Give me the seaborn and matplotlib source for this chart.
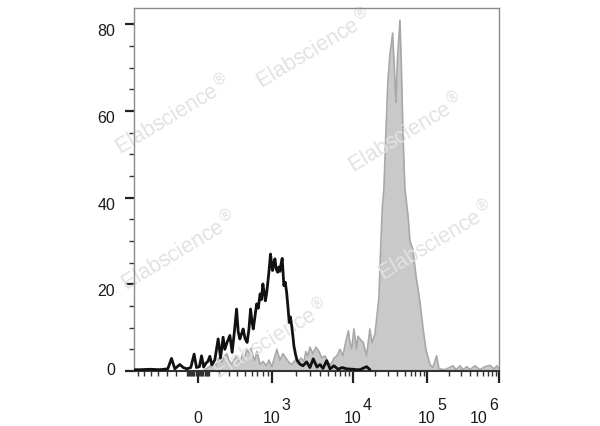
import numpy as np
import matplotlib
matplotlib.use("Agg")
import matplotlib.pyplot as plt
import matplotlib.transforms as mtransforms
from matplotlib.ticker import FixedLocator, NullFormatter
import seaborn as sns

sns.set_style("ticks")
plt.rcParams['font.family'] = ['Liberation Sans', 'DejaVu Sans']

# control sample (black line): fluorescence intensity / count
ctrl_x = [-770, -670, -515, -380, -288, -248, -214, -165, -132, -99, -63, -33, -12, 14, 33,
          52, 72, 90, 108, 127, 155, 187, 211, 237, 255, 277, 310, 336, 362, 389, 410, 431,
          452, 475, 502, 532, 558, 585, 606, 628, 656, 686, 716, 749, 775, 803, 831, 853,
          875, 891, 928, 968, 1000, 1021, 1062, 1096, 1140, 1186, 1231, 1268, 1306, 1357,
          1425, 1481, 1542, 1600, 1663, 1720, 1781, 1849, 1901, 1984, 2055, 2131, 2256,
          2458, 2730, 2995, 3290, 3653, 3970, 4325, 4800, 5265, 5895, 6595, 7375, 8417,
          10000, 11220, 12430, 15300, 17000]
ctrl_y = [0.3, 0.3, 0.4, 0.3, 0.5, 2.9, 0.5, 1.5, 0.8, 0.5, 0.8, 3.9, 0.8, 1.0, 3.5,
          0.9, 1.8, 2.2, 3.4, 1.4, 2.6, 7.4, 3.0, 7.8, 5.0, 6.5, 8.2, 4.3, 9.0, 14.3, 9.0, 7.4,
          8.5, 9.7, 7.5, 6.6, 9.5, 14.3, 11.5, 9.7, 12.5, 15.5, 14.5, 17.8, 16.5, 20.1, 18.0, 16.2,
          17.5, 18.9, 22.5, 27.0, 24.0, 23.2, 25.0, 25.9, 23.5, 22.8, 24.0, 23.0, 24.5, 26.0,
          19.7, 20.5, 18.2, 15.0, 11.2, 12.5, 10.5, 8.0, 5.8, 4.0, 2.8, 2.2, 1.6,
          1.2, 2.1, 0.8, 2.8, 0.9, 1.5, 0.6, 2.4, 0.5, 1.2, 0.4, 0.8, 0.5,
          0.4, 0.3, 0.3, 1.0, 0.3]

# stained sample (gray filled)
stain_x = [63, 108, 136, 165, 194, 224, 255, 277, 299, 333, 356, 393, 431, 471, 499, 527,
           558, 590, 622, 656, 692, 749, 807, 875, 931, 1000, 1096, 1161, 1268, 1385, 1511,
           1648, 1796, 1957, 2131, 2321, 2528, 2675, 2830, 2995, 3260, 3548, 3862, 4205,
           4575, 4978, 5415, 5895, 6407, 6970, 7584, 8019, 8806, 9220, 9676, 10316, 11220,
           11680, 12430, 13780, 14530, 15300, 15950, 16970, 18060, 18800, 19830, 20900,
           22450, 23900, 25000, 26200, 27900, 29700, 31600, 34400, 35800, 38100, 39900,
           43200, 45200, 47400, 50400, 55400, 58900, 64700, 71000, 75600, 80400, 88300,
           96900, 110000, 121000, 136000, 147000, 178000, 230000, 253000, 287000, 316000,
           359000, 395000, 464000, 544000, 637000, 748000, 852000, 938000, 1000000]
stain_y = [0.3, 1.0, 2.0, 1.2, 3.0, 2.0, 3.5, 4.0, 2.5, 1.5, 2.5, 3.5, 2.0, 4.0, 3.0, 5.0,
           4.2, 5.2, 3.5, 2.5, 4.5, 1.5, 2.2, 1.2, 2.5, 1.0, 3.5, 5.0, 2.5, 4.0, 3.0,
           2.0, 1.5, 2.5, 1.8, 3.0, 2.2, 4.5, 3.5, 5.5, 4.0, 5.5, 4.5, 3.0,
           3.5, 2.0, 1.5, 3.0, 3.5, 5.0, 3.5, 6.0, 9.3, 6.5, 5.1, 9.7, 5.1,
           8.0, 7.4, 6.6, 5.0, 3.5, 6.0, 9.7, 6.5, 7.4, 8.5, 12.0,
           17.0, 30.0, 38.0, 42.0, 55.0, 67.0, 73.0, 78.0, 72.0, 62.0, 72.0,
           81.0, 70.0, 55.0, 42.0, 36.0, 30.0, 28.0, 22.0, 19.0, 16.0, 10.0,
           5.0, 1.5, 0.8, 3.5, 0.5, 0.3, 1.2, 0.3, 1.2, 0.3,
           1.0, 0.3, 1.2, 0.3, 1.0, 1.3, 0.5, 1.2, 0.5]

y_ticks = [0, 20, 40, 60, 80]
x_ticks = [0, 1e3, 1e4, 1e5, 1e6]
x_base = ['0', '10', '10', '10', '10']
x_exp = ['', '3', '4', '5', '6']

# logicle-like display: arcsinh, then piecewise so each decade gets the cytometer's width
C = 400.0
anchor_vals = np.array([-1e5, 0, 1e3, 1e4, 1e5, 1e6, 1e7])
anchor_u = np.arcsinh(anchor_vals / C)
anchor_pos = np.array([-279.0, 0, 74, 155, 229, 301, 373])


def fwd(x):
    return np.interp(np.arcsinh(np.asarray(x, dtype=float) / C), anchor_u, anchor_pos)


def inv(p):
    return C * np.sinh(np.interp(np.asarray(p, dtype=float), anchor_pos, anchor_u))


fig = plt.figure(figsize=(6, 4.27), dpi=100)
ax = fig.add_axes([134 / 600, 1 - 372 / 427, 365 / 600, 363 / 427])
ax.set_xscale('function', functions=(fwd, inv))

ax.fill_between(stain_x, stain_y, 0, color='#c9c9c9', lw=0, zorder=1)
sns.lineplot(x=stain_x, y=stain_y, color='#a8a8a8', lw=1.2, ax=ax, zorder=1.5,
             estimator=None, sort=False)
sns.lineplot(x=ctrl_x, y=ctrl_y, color='#111111', lw=2.0, ax=ax, zorder=3,
             estimator=None, sort=False)

ax.set_xlim(-780, 1e6)
ax.set_ylim(0, 83.8)
ax.set_xlabel('')
ax.set_ylabel('')

# ticks
minor_x = [s * m * 10 ** e for e in (1, 2) for m in range(1, 10) for s in (-1, 1)]
minor_x += [m * 10 ** e for e in (3, 4, 5) for m in range(2, 10)]
ax.xaxis.set_major_locator(FixedLocator(x_ticks))
ax.xaxis.set_minor_locator(FixedLocator(minor_x))
ax.yaxis.set_major_locator(FixedLocator(y_ticks))
ax.yaxis.set_minor_locator(FixedLocator([v for v in range(5, 85, 5) if v % 20]))
for a in (ax.xaxis, ax.yaxis):
    a.set_major_formatter(NullFormatter())
    a.set_minor_formatter(NullFormatter())
ax.tick_params(axis='x', which='major', length=8.5, width=1.6, color='#222222')
ax.tick_params(axis='x', which='minor', length=3.8, width=1.0, color='#333333')
ax.tick_params(axis='y', which='major', length=6.5, width=1.6, color='#222222')
ax.tick_params(axis='y', which='minor', length=3.6, width=1.0, color='#333333')

for side in ('left', 'top', 'right'):
    ax.spines[side].set_color('#8a8a8a')
    ax.spines[side].set_linewidth(1.0)
ax.spines['bottom'].set_color('#333333')
ax.spines['bottom'].set_linewidth(1.5)

# tick labels drawn as text so the exponents stay full size
dpi_t = fig.dpi_scale_trans
ytr = ax.get_yaxis_transform()
for v in y_ticks:
    dy = 1.3 if v == 0 else -6.5
    ax.text(0, v, str(v), transform=ytr + mtransforms.ScaledTranslation(-0.19, dy / 100, dpi_t),
            ha='right', va='center', fontsize=11.5, color='#1a1a1a')

xtr = ax.get_xaxis_transform()
shifts = [0, 0, 0, 0, -20]
for v, b, e, s in zip(x_ticks, x_base, x_exp, shifts):
    ax.text(v, 0, b, transform=xtr + mtransforms.ScaledTranslation(s / 100, -0.51, dpi_t),
            ha='center', va='baseline', fontsize=11.5, color='#1a1a1a')
    if e:
        ax.text(v, 0, e, transform=xtr + mtransforms.ScaledTranslation((s + 10) / 100, -0.38, dpi_t),
                ha='left', va='baseline', fontsize=11.5, color='#1a1a1a')

# watermarks
marks = [(313, 48), (172, 114), (405, 132), (178, 250), (435, 240), (270, 338)]
for mx, my in marks:
    ax.text(mx / 600, 1 - my / 427, r'Elabscience$^{\circledR}$', transform=fig.transFigure,
            rotation=31, rotation_mode='anchor', ha='center', va='center', fontsize=15.5,
            color='#e2e2e2', zorder=2)

fig.savefig('out.png', dpi=100)
